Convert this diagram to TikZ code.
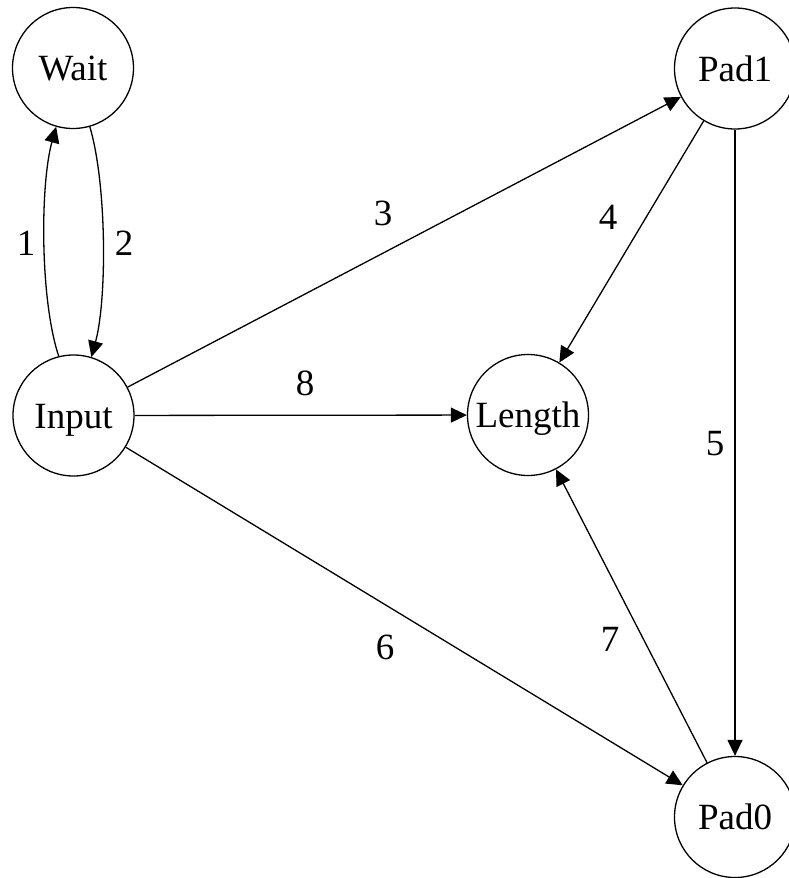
\documentclass[tikz,border=0pt]{standalone}
\usepackage{fontspec}
\setmainfont{Liberation Serif}
\usetikzlibrary{arrows.meta}
\begin{document}
\begin{tikzpicture}[x=1pt,y=-1pt,
  state/.style={draw=black,line width=1.3pt,circle,minimum size=121pt,inner sep=0pt,
    font=\fontsize{37}{40}\selectfont,text height=25pt,text depth=0pt},
  lbl/.style={inner sep=0pt,font=\fontsize{37}{40}\selectfont,text height=25pt,text depth=0pt},
  edge/.style={draw=black,line width=1.3pt,-{Triangle[length=16pt,width=15pt]}}]
  \useasboundingbox (0,0) rectangle (788,878);
  % states
  \node[state] (w) at (73,68) {Wait};
  \node[state] (p1) at (735,68.5) {Pad1};
  \node[state] (i) at (73.5,415.5) {Input};
  \node[state] (l) at (528,415) {Length};
  \node[state] (p0) at (735,817) {Pad0};
  % transitions
  \draw[edge] (i.104) .. controls (40,300) and (40,185) .. (w.254);
  \draw[edge] (w.-74) .. controls (107,185) and (107,300) .. (i.73);
  \draw[edge] (i) -- (p1);
  \draw[edge] (p1) -- (l);
  \draw[edge] (p1) -- (p0);
  \draw[edge] (i) -- (p0);
  \draw[edge] (p0) -- (l);
  \draw[edge] (i) -- (l);
  % transition labels
  \node[lbl] (n1) at (26,243) {1};
  \node[lbl] (n2) at (124,243) {2};
  \node[lbl] (n3) at (383,213) {3};
  \node[lbl] (n4) at (608,217) {4};
  \node[lbl] (n5) at (715,443) {5};
  \node[lbl] (n6) at (385,647) {6};
  \node[lbl] (n7) at (610,639) {7};
  \node[lbl] (n8) at (305,383) {8};
\end{tikzpicture}
\end{document}
